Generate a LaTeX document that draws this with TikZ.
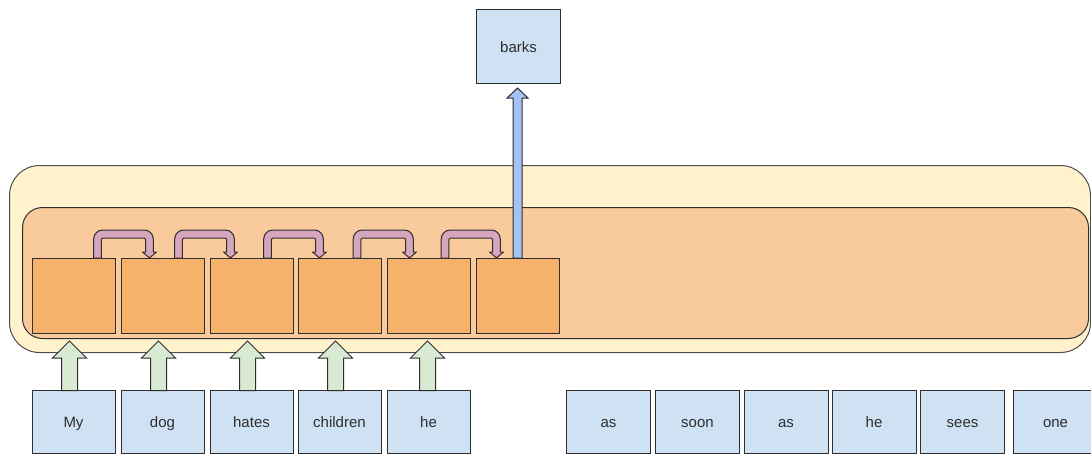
\documentclass[tikz,border=0pt]{standalone}
\usepackage{fontspec}
\setmainfont{Liberation Sans}
\usetikzlibrary{calc}

\definecolor{wordfill}{HTML}{CFE2F3}
\definecolor{cellfill}{HTML}{F6B26B}
\definecolor{layerfill}{HTML}{F9CB9C}
\definecolor{netfill}{HTML}{FFF2CC}
\definecolor{feedfill}{HTML}{D9EAD3}
\definecolor{hopfill}{HTML}{D5A6BD}
\definecolor{outfill}{HTML}{A4C2F4}
\definecolor{edge}{HTML}{2E2E2E}

% straight block arrow pointing up: style, tail point, tip point,
% shaft half-width, head half-width, head length
\newcommand\blockup[6]{%
  \path[#1] let \p1=(#2), \p2=(#3) in
    (\x1-#4,\y1) -- (\x1-#4,\y2-#6) -- (\x1-#5,\y2-#6) -- (\x1,\y2)
    -- (\x1+#5,\y2-#6) -- (\x1+#4,\y2-#6) -- (\x1+#4,\y1) -- cycle;}

% bent block arrow hopping from one cell top to the next: style, start, tip
\newcommand\blockhop[3]{%
  \path[#1] let \p1=(#2), \p2=(#3) in
    (\x1-3.8pt,\y1) -- (\x1-3.8pt,\y1+19pt)
    arc[start angle=180,end angle=90,radius=9pt]
    -- (\x2-5.2pt,\y1+28pt)
    arc[start angle=90,end angle=0,radius=9pt]
    -- (\x2+3.8pt,\y2+6pt) -- (\x2+7pt,\y2+6pt) -- (\x2,\y2)
    -- (\x2-7pt,\y2+6pt) -- (\x2-3.8pt,\y2+6pt) -- (\x2-3.8pt,\y1+18pt)
    arc[start angle=0,end angle=90,radius=2pt]
    -- (\x1+5.8pt,\y1+20pt)
    arc[start angle=90,end angle=180,radius=2pt]
    -- (\x1+3.8pt,\y1) -- cycle;}

\tikzset{
  box/.style={draw=edge, line width=1pt, inner sep=0pt, outer sep=0pt,
    anchor=north west, font=\fontsize{15}{18}\selectfont, text=black!82,
    text height=13.5pt, text depth=2pt},
  word/.style={box, fill=wordfill, minimum width=83pt, minimum height=62.5pt},
  cell/.style={box, fill=cellfill, minimum width=83pt, minimum height=75pt},
  net/.style={draw=edge!85, line width=1pt, fill=netfill, rounded corners=30pt},
  layer/.style={draw=edge, line width=1pt, fill=layerfill, rounded corners=20pt},
  feed/.style={draw=edge, line width=1pt, fill=feedfill, line join=miter},
  hop/.style={draw=edge, line width=1pt, fill=hopfill, line join=round},
  outarrow/.style={draw=edge, line width=1pt, fill=outfill, line join=miter},
}

\begin{document}
\begin{tikzpicture}[x=1pt,y=1pt]
  \clip (0,0) rectangle (1091,-455);
  \useasboundingbox (0,0) rectangle (1091,-455);

  % network containers
  \draw[net] (9.5,-165.5) rectangle (1090.5,-352.5);
  \draw[layer] (22.5,-207.5) rectangle (1088.5,-338.5);

  % recurrent cells
  \node[cell] (c1) at (32,-258) {};
  \node[cell] (c2) at (121,-258) {};
  \node[cell] (c3) at (210,-258) {};
  \node[cell] (c4) at (298,-258) {};
  \node[cell] (c5) at (387,-258) {};
  \node[cell] (c6) at (476,-258) {};

  % output word
  \node[word, minimum width=84pt, minimum height=73.5pt] (barks) at (476.5,-9.5) {barks};

  % input words
  \node[word] (w1) at (32,-390.5) {My};
  \node[word] (w2) at (121,-390.5) {dog};
  \node[word] (w3) at (210,-390.5) {hates};
  \node[word] (w4) at (298,-390.5) {children};
  \node[word] (w5) at (387,-390.5) {he};
  \node[word, minimum width=84pt] (w6) at (566.5,-390.5) {as};
  \node[word, minimum width=84pt] (w7) at (655.5,-390.5) {soon};
  \node[word, minimum width=84pt] (w8) at (744,-390.5) {as};
  \node[word, minimum width=84pt] (w9) at (832,-390.5) {he};
  \node[word, minimum width=84pt] (w10) at (920.5,-390.5) {sees};
  \node[word, minimum width=84pt] (w11) at (1013.5,-390.5) {one};

  % inputs into the cells
  \blockup{feed}{$(w1.north)+(-4,0)$}{$(c1.south)+(-4,-8)$}{8pt}{17pt}{17pt}
  \blockup{feed}{$(w2.north)+(-4,0)$}{$(c2.south)+(-4,-8)$}{8pt}{17pt}{17pt}
  \blockup{feed}{$(w3.north)+(-4,0)$}{$(c3.south)+(-4,-8)$}{8pt}{17pt}{17pt}
  \blockup{feed}{$(w4.north)+(-4,0)$}{$(c4.south)+(-4,-8)$}{8pt}{17pt}{17pt}
  \blockup{feed}{$(w5.north)+(-1,0)$}{$(c5.south)+(-1,-8)$}{8pt}{17pt}{17pt}

  % hidden state passed along
  \blockhop{hop}{$(c1.north)+(24,0)$}{$(c2.north)+(-13,0)$}
  \blockhop{hop}{$(c2.north)+(16,0)$}{$(c3.north)+(-21,0)$}
  \blockhop{hop}{$(c3.north)+(16,0)$}{$(c4.north)+(-20,0)$}
  \blockhop{hop}{$(c4.north)+(17.5,0)$}{$(c5.north)+(-19,0)$}
  \blockhop{hop}{$(c5.north)+(16.5,0)$}{$(c6.north)+(-21,0)$}

  % prediction
  \blockup{outarrow}{c6.north}{$(barks.south)+(0,-5)$}{4.5pt}{10.5pt}{10pt}
\end{tikzpicture}
\end{document}
